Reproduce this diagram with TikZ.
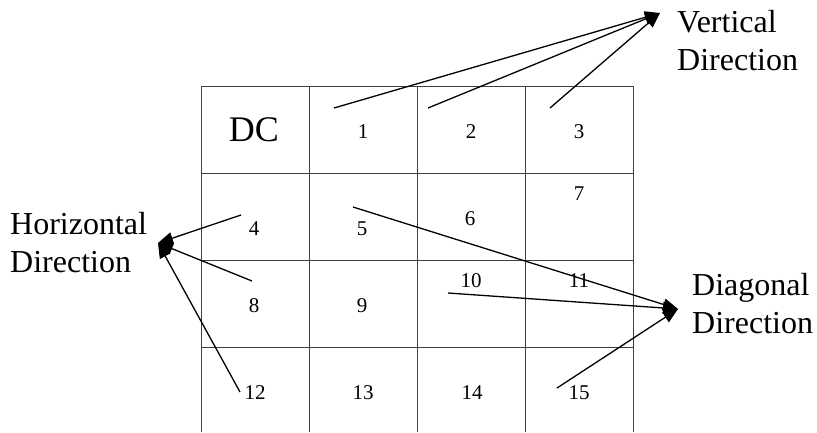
\documentclass[tikz,border=0pt]{standalone}
\usepackage{fontspec}
\setmainfont{Liberation Serif}
\usetikzlibrary{arrows.meta}
\begin{document}
\begin{tikzpicture}[x=1pt,y=-1pt,
  gridline/.style={draw=black!75,line width=0.8pt},
  num/.style={font=\fontsize{21}{25}\selectfont,anchor=base,inner sep=0pt},
  dirlabel/.style={font=\fontsize{32}{38}\selectfont,anchor=base west,align=left,inner sep=0pt},
  arr/.style={line width=1.3pt,-{Triangle[length=15pt,width=12pt]}}]
\useasboundingbox (0,0) rectangle (817,432);
% grid
\foreach \x in {201,309,417,525,633} \draw[gridline] (\x,86) -- (\x,432);
\foreach \y in {86,173,260,347} \draw[gridline] (201,\y) -- (633,\y);
% cell texts
\node[num,font=\fontsize{36}{40}\selectfont] (dc) at (254,141) {DC};
\node[num] (n1) at (363,138) {1};
\node[num] (n2) at (471,138) {2};
\node[num] (n3) at (579,138) {3};
\node[num] (n4) at (254,235) {4};
\node[num] (n5) at (362,235) {5};
\node[num] (n6) at (470,225) {6};
\node[num] (n7) at (579,200) {7};
\node[num] (n8) at (254,312) {8};
\node[num] (n9) at (362,312) {9};
\node[num] (n10) at (471,287) {10};
\node[num] (n11) at (579,287) {11};
\node[num] (n12) at (255,399) {12};
\node[num] (n13) at (363,399) {13};
\node[num] (n14) at (472,399) {14};
\node[num] (n15) at (579,399) {15};
% direction labels (anchor = baseline of last line)
\node[dirlabel] (vert) at (677,70) {Vertical\\Direction};
\node[dirlabel] (horz) at (10,272) {Horizontal\\Direction};
\node[dirlabel] (diag) at (692,333) {Diagonal\\Direction};
% arrow tips
\coordinate (vtip) at (660,13);
\coordinate (htip) at (158,243);
\coordinate (dtip) at (678,309);
% arrow starts
\coordinate (s1) at (334,108);
\coordinate (s2) at (428,108);
\coordinate (s3) at (550,108);
\coordinate (s4) at (241,215);
\coordinate (s8) at (252,281);
\coordinate (s12) at (240,392);
\coordinate (s5) at (353,207);
\coordinate (s10) at (448,293);
\coordinate (s15) at (557,388);
% arrows
\draw[arr] (s1) -- (vtip);
\draw[arr] (s2) -- (vtip);
\draw[arr] (s3) -- (vtip);
\draw[arr] (s4) -- (htip);
\draw[arr] (s8) -- (htip);
\draw[arr] (s12) -- (htip);
\draw[arr] (s5) -- (dtip);
\draw[arr] (s10) -- (dtip);
\draw[arr] (s15) -- (dtip);
\end{tikzpicture}
\end{document}
